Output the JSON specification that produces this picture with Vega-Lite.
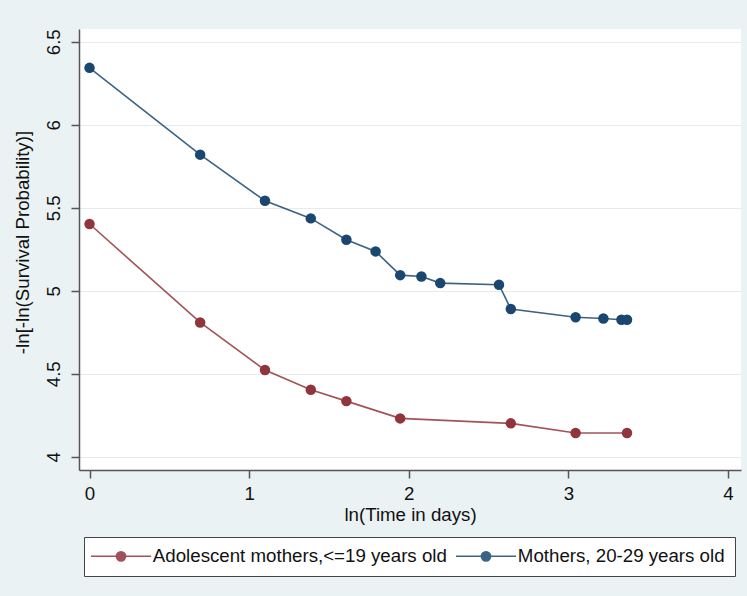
{
  "$schema": "https://vega.github.io/schema/vega-lite/v6.json",
  "width": 662,
  "height": 441,
  "autosize": {"type": "none"},
  "padding": {"left": 79, "top": 29, "right": 6, "bottom": 126},
  "background": "#eaf2f3",
  "config": {
    "view": {"fill": "white", "stroke": null},
    "font": "Liberation Sans"
  },
  "data": {
    "values": [
      {"t": 0.000, "s": 6.343, "group": "Mothers, 20-29 years old"},
      {"t": 0.693, "s": 5.820, "group": "Mothers, 20-29 years old"},
      {"t": 1.099, "s": 5.542, "group": "Mothers, 20-29 years old"},
      {"t": 1.386, "s": 5.436, "group": "Mothers, 20-29 years old"},
      {"t": 1.609, "s": 5.307, "group": "Mothers, 20-29 years old"},
      {"t": 1.792, "s": 5.237, "group": "Mothers, 20-29 years old"},
      {"t": 1.946, "s": 5.094, "group": "Mothers, 20-29 years old"},
      {"t": 2.079, "s": 5.086, "group": "Mothers, 20-29 years old"},
      {"t": 2.197, "s": 5.046, "group": "Mothers, 20-29 years old"},
      {"t": 2.565, "s": 5.036, "group": "Mothers, 20-29 years old"},
      {"t": 2.639, "s": 4.890, "group": "Mothers, 20-29 years old"},
      {"t": 3.045, "s": 4.840, "group": "Mothers, 20-29 years old"},
      {"t": 3.219, "s": 4.833, "group": "Mothers, 20-29 years old"},
      {"t": 3.332, "s": 4.825, "group": "Mothers, 20-29 years old"},
      {"t": 3.367, "s": 4.825, "group": "Mothers, 20-29 years old"},
      {"t": 0.000, "s": 5.402, "group": "Adolescent mothers,<=19 years old"},
      {"t": 0.693, "s": 4.809, "group": "Adolescent mothers,<=19 years old"},
      {"t": 1.099, "s": 4.522, "group": "Adolescent mothers,<=19 years old"},
      {"t": 1.386, "s": 4.404, "group": "Adolescent mothers,<=19 years old"},
      {"t": 1.609, "s": 4.335, "group": "Adolescent mothers,<=19 years old"},
      {"t": 1.946, "s": 4.231, "group": "Adolescent mothers,<=19 years old"},
      {"t": 2.639, "s": 4.201, "group": "Adolescent mothers,<=19 years old"},
      {"t": 3.045, "s": 4.143, "group": "Adolescent mothers,<=19 years old"},
      {"t": 3.367, "s": 4.143, "group": "Adolescent mothers,<=19 years old"}
    ]
  },
  "encoding": {
    "x": {
      "field": "t",
      "type": "quantitative",
      "scale": {"domain": [-0.066, 4.081], "nice": false, "zero": false},
      "axis": {
        "title": "ln(Time in days)",
        "values": [0, 1, 2, 3, 4],
        "format": "~g",
        "grid": false,
        "domainColor": "#555555",
        "domainWidth": 1.5,
        "tickColor": "#555555",
        "tickWidth": 1.5,
        "tickSize": 8,
        "labelFontSize": 18.7,
        "labelColor": "#111111",
        "labelPadding": 6,
        "labelFlush": false,
        "labelOverlap": false,
        "titleFontSize": 18.7,
        "titleFontWeight": "normal",
        "titleColor": "#111111",
        "titleY": 44,
        "titleBaseline": "middle"
      }
    },
    "y": {
      "field": "s",
      "type": "quantitative",
      "scale": {"domain": [3.92, 6.577], "nice": false, "zero": false},
      "axis": {
        "title": "-ln[-ln(Survival Probability)]",
        "values": [4, 4.5, 5, 5.5, 6, 6.5],
        "format": "~g",
        "grid": true,
        "gridColor": "#e3edf0",
        "gridWidth": 1,
        "domainColor": "#555555",
        "domainWidth": 1.5,
        "tickColor": "#555555",
        "tickWidth": 1.5,
        "tickSize": 8,
        "labelFontSize": 18.7,
        "labelColor": "#111111",
        "labelAngle": 270,
        "labelAlign": "center",
        "labelBaseline": "bottom",
        "labelPadding": 8,
        "labelFlush": false,
        "labelOverlap": false,
        "titleFontSize": 18.7,
        "titleFontWeight": "normal",
        "titleColor": "#111111",
        "titleAngle": 270,
        "titleAlign": "center",
        "titleBaseline": "middle",
        "titleX": -57,
        "titleY": 213
      }
    },
    "color": {
      "field": "group",
      "type": "nominal",
      "scale": {
        "domain": ["Adolescent mothers,<=19 years old", "Mothers, 20-29 years old"],
        "range": ["#90353b", "#1a476f"]
      },
      "legend": {
        "title": null,
        "orient": "none",
        "legendX": 5,
        "legendY": 508,
        "direction": "horizontal",
        "columns": 2,
        "columnPadding": 5,
        "padding": 9.5,
        "strokeColor": "#444444",
        "fillColor": "white",
        "labelFont": "Liberation Sans",
        "labelFontSize": 18.7,
        "labelColor": "#111111",
        "labelLimit": 500,
        "symbolType": "M-6,0H6M-0.93,0A0.93,0.93 0 1,1 0.93,0A0.93,0.93 0 1,1 -0.93,0Z",
        "symbolSize": 100,
        "symbolStrokeWidth": 1.5,
        "symbolOffset": 18.15,
        "labelOffset": 22.5,
        "encode": {
          "symbols": {
            "update": {
              "fill": {"scale": "color", "field": "value"},
              "stroke": {"scale": "color", "field": "value"},
              "opacity": {"value": 1}
            }
          }
        }
      }
    }
  },
  "layer": [
    {"mark": {"type": "line", "strokeWidth": 1.6, "opacity": 0.85}},
    {"mark": {"type": "point", "filled": true, "shape": "circle", "size": 110, "opacity": 1}}
  ]
}
